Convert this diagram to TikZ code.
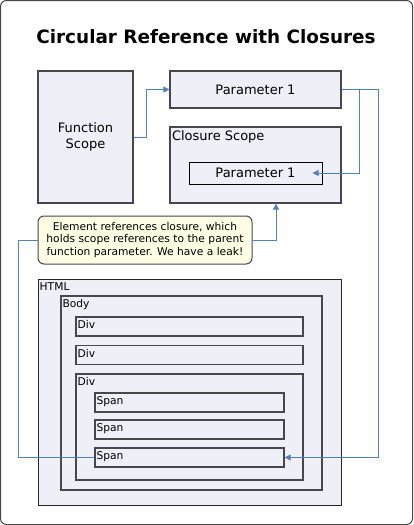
\documentclass[tikz,border=0pt]{standalone}
\usepackage{fontspec}
\setmainfont{DejaVu Sans}
\usetikzlibrary{arrows.meta}
\definecolor{boxfill}{RGB}{238,239,247}
\definecolor{boxline}{RGB}{72,72,76}
\definecolor{notefill}{RGB}{255,255,230}
\definecolor{refline}{RGB}{79,129,189}

\begin{document}
\begin{tikzpicture}[x=1pt,y=-1pt,
  box/.style={rectangle,draw=boxline,fill=boxfill,line width=1.3pt,inner sep=0pt},
  tag/.style={label={[anchor=north west,inner xsep=2pt,inner ysep=4pt,font=\fontsize{10.7}{12}\selectfont]north west:#1}},
  bigtag/.style={label={[anchor=north west,inner xsep=2.5pt,inner ysep=4.5pt,font=\fontsize{13}{15}\selectfont]north west:#1}},
  ref/.style={refline,line width=0.9pt,-{Triangle[length=6pt,width=6pt]}}]
\useasboundingbox (0,0) rectangle (413,525);
%\draw[help lines,step=10] (0,0) grid (413,525);
\draw[boxline,line width=1pt,rounded corners=6pt] (0.5,0.5) rectangle (412.5,524.5);
\path (206,37) node(title) [font=\fontsize{18.4}{22}\selectfont\bfseries] {Circular Reference with Closures}
(85.5,137) node(fs) [box,minimum width=95pt,minimum height=132pt,align=center,font=\fontsize{13}{16}\selectfont] {Function\\Scope}
(255.5,89.5) node(par) [box,minimum width=171pt,minimum height=37pt,font=\fontsize{13}{15}\selectfont] {Parameter 1}
(255.5,165) node(cls) [box,minimum width=171pt,minimum height=76pt,bigtag={Closure Scope}] {}
(255.5,173) node(cpar) [box,draw=black,line width=1pt,minimum width=133pt,minimum height=22pt,font=\fontsize{13}{15}\selectfont] {Parameter 1}
(145,240) node(note) [rectangle,draw=boxline,fill=notefill,line width=1pt,rounded corners=6pt,minimum width=214pt,minimum height=48pt,align=center,inner sep=0pt,font=\fontsize{10.7}{12.4}\selectfont] {Element references closure, which\\holds scope references to the parent\\function parameter. We have a leak!};

\path (189.5,392) node(html) [box,draw=black!85,line width=1pt,minimum width=303pt,minimum height=226pt,tag=HTML] {}
(191.5,393) node(body) [box,minimum width=261pt,minimum height=194pt,tag=Body] {}
(189.5,326.5) node(div1) [box,minimum width=227pt,minimum height=19pt,tag=Div] {}
(189.5,355) node(div2) [box,minimum width=227pt,minimum height=19pt,tag=Div] {}
(189.5,427) node(div3) [box,minimum width=227pt,minimum height=106pt,tag=Div] {}
(189.5,402.5) node(span1) [box,minimum width=189pt,minimum height=19pt,tag=Span] {}
(189.5,429.5) node(span2) [box,minimum width=189pt,minimum height=19pt,tag=Span] {}
(189.5,457.5) node(span3) [box,minimum width=189pt,minimum height=19pt,tag=Span] {};

\draw[ref] (fs.east) -- ++(13,0) |- (par.west);
\draw[ref] (par.east) -- ++(18,0) |- ([xshift=-10pt]cpar.east);
\draw[ref] (par.east) -- ++(37,0) |- (span3.east);
\draw[refline,line width=0.9pt] (note.west) -- ++(-19,0) |- (span3.west);
\draw[ref] (note.east) -| ([xshift=20.5pt]cls.south);
\end{tikzpicture}
\end{document}
